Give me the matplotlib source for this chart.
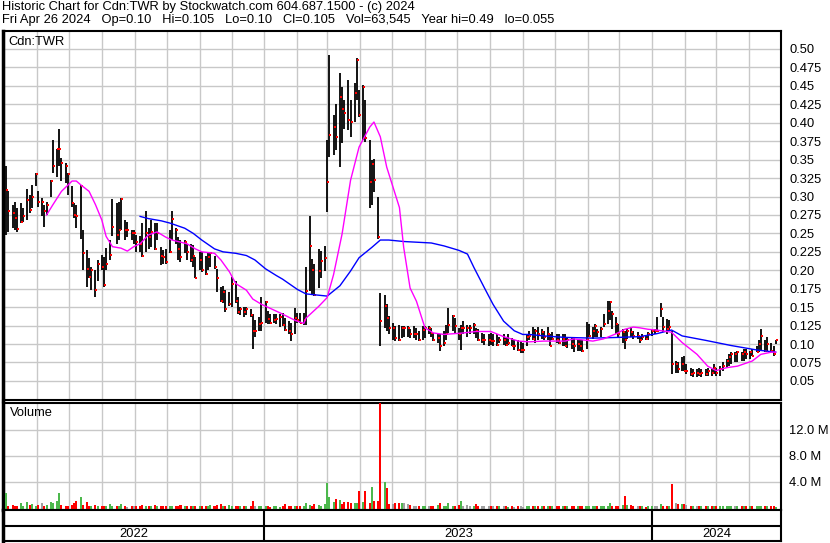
import matplotlib
matplotlib.use('Agg')
import matplotlib.pyplot as plt
import matplotlib.dates as mdates
import matplotlib.transforms as mtransforms
from matplotlib.ticker import FixedLocator, FuncFormatter, NullFormatter
import numpy as np
import pandas as pd

plt.rcParams['font.family'] = ['Liberation Sans', 'DejaVu Sans']

# one bar for every second trading day, May 2022 - Apr 26 2024 (prices x1000)
hi = [342, 307, 289, 293, 284, 291, 284, 310, 302, 316, 332, 307, 298, 289, 293, 323,
      376, 364, 391, 352, 346, 332, 314, 291, 289, 316, 255, 227, 216, 205, 200, 214,
      221, 218, 230, 241, 296, 291, 293, 298, 268, 266, 255, 255, 248, 246,
      264, 281, 257, 268, 264, 264, 232, 227, 229, 255, 281, 257, 245, 241, 241, 236,
      236, 234, 218, 225, 225, 220, 225, 225, 220, 202, 177, 179, 173, 170, 191, 186,
      164, 150, 150, 150, 148, 141, 132, 136, 164, 159, 145, 141, 141, 141, 141,
      142, 135, 131, 128, 149, 142, 142, 142, 204, 274, 215, 208, 229, 226, 233, 376,
      492, 410, 426, 467, 449, 431, 458, 431, 454, 488, 444, 451, 431, 376, 349, 351,
      300, 169, 167, 154, 138, 128, 124, 126, 124, 124, 124, 120, 124, 122, 117, 124,
      124, 124, 122, 115, 113, 113, 117, 126, 149, 140, 135, 122, 126, 131, 126, 126,
      128, 122, 120, 115, 113, 113, 115, 113, 113, 110, 113, 108, 113, 108, 106, 106,
      104, 101, 113,
      118, 123, 120, 123, 120, 118, 123, 114, 116, 114, 114, 114, 114, 109, 109, 109,
      105, 107, 105, 130, 127, 123, 127, 120, 123, 141, 159, 159, 145, 136, 127, 120,
      118, 120, 123, 118, 116, 111, 114, 111, 116, 120, 120, 136, 155,
      136, 134, 132, 118, 77, 75, 82, 84, 73, 68, 66, 66, 68, 66, 66, 68, 66, 73, 68,
      70, 75, 80, 86, 89, 89, 91, 89, 93, 93, 91, 93, 98, 105, 120, 105, 109, 102, 98,
      105]
lo = [248, 252, 257, 255, 252, 264, 266, 268, 277, 284, 314, 286, 273, 259, 275, 300,
      332, 327, 341, 321, 318, 302, 286, 271, 257, 243, 200, 177, 189, 173, 164, 186,
      200, 177, 200, 214, 246, 236, 241, 255, 241, 245, 241, 236, 225, 225,
      218, 225, 229, 232, 227, 241, 207, 209, 209, 223, 241, 236, 214, 211, 223, 214,
      211, 204, 189, 200, 198, 193, 200, 204, 202, 170, 157, 155, 143, 152, 150, 155,
      141, 139, 136, 139, 136, 93, 109, 118, 118, 129, 127, 127, 129, 127, 123,
      124, 117, 113, 104, 113, 129, 129, 126, 126, 172, 167, 165, 176, 190, 199, 279,
      354, 356, 363, 340, 372, 392, 390, 381, 401, 431, 408, 376, 374, 285, 288, 306,
      242, 97, 122, 117, 113, 106, 104, 104, 108, 110, 110, 108, 108, 106, 104, 106,
      108, 113, 110, 104, 101, 90, 97, 106, 115, 117, 115, 106, 92, 113, 110, 113,
      113, 108, 104, 101, 99, 97, 99, 97, 97, 101, 99, 97, 99, 97, 92, 90,
      88, 88, 97,
      105, 105, 102, 105, 107, 105, 105, 98, 105, 102, 100, 98, 98, 95, 93, 89,
      91, 91, 89, 93, 109, 107, 109, 109, 109, 123, 127, 132, 120, 114, 109, 102,
      93, 107, 109, 107, 107, 102, 105, 105, 105, 111, 114, 116, 136,
      116, 114, 118, 59, 61, 61, 64, 64, 59, 57, 55, 55, 57, 55, 57, 57, 57, 59, 57,
      57, 64, 68, 70, 73, 75, 75, 77, 77, 80, 80, 84, 89, 89, 91, 89, 91, 89, 84,
      100]
cl = [309, 280, 277, 271, 256, 265, 274, 295, 282, 300, 330, 293, 293, 280, 289, 321,
      341, 364, 365, 346, 341, 330, 291, 275, 274, 314, 223, 202, 191, 200, 173, 209,
      205, 180, 209, 221, 259, 248, 255, 296, 255, 255, 250, 250, 239, 236,
      220, 250, 245, 252, 229, 250, 220, 218, 211, 225, 270, 254, 229, 218, 239, 225,
      214, 220, 189, 214, 200, 195, 218, 223, 204, 189, 159, 170, 148, 154, 182, 159,
      143, 148, 143, 148, 139, 118, 118, 127, 129, 157, 134, 129, 132, 134, 136,
      126, 119, 117, 113, 135, 133, 129, 133, 172, 233, 201, 167, 199, 213, 217, 320,
      383, 394, 381, 435, 419, 413, 404, 401, 440, 485, 410, 449, 379, 320, 344, 322,
      245, 131, 151, 135, 122, 122, 108, 106, 122, 122, 122, 113, 113, 113, 106, 119,
      122, 122, 115, 106, 108, 97, 101, 113, 126, 138, 124, 113, 122, 122, 122, 122,
      126, 117, 106, 106, 106, 106, 104, 104, 99, 106, 106, 99, 101, 97, 97, 92,
      92, 92, 110,
      111, 107, 118, 114, 116, 109, 114, 98, 107, 105, 102, 107, 98, 105, 100, 98,
      100, 98, 91, 107, 111, 118, 125, 116, 120, 127, 145, 157, 141, 127, 114, 116,
      105, 118, 116, 111, 111, 105, 109, 107, 114, 118, 118, 118, 148,
      123, 120, 123, 73, 73, 66, 73, 64, 64, 59, 61, 61, 59, 61, 59, 64, 61, 68, 61,
      66, 70, 77, 82, 86, 86, 89, 86, 89, 86, 89, 84, 89, 100, 111, 91, 100, 91, 86,
      105]
# volume in millions of shares
vol = [2.2, 0.3, 0.4, 0.3, 0.3, 0.8, 0.3, 0.85, 0.4, 0.5,
       0.3, 0.4, 0.75, 0.3, 0.4, 0.85, 0.75, 1.0, 2.2, 0.4,
       0.3, 0.3, 0.4, 0.7, 1.0, 1.7, 0.4, 0.85, 0.3, 0.2,
       0.4, 0.2, 0.3, 0.2, 0.3, 0.6, 0.2, 0.3, 0.2, 0.5,
       0.2, 0.1, 0.2, 0.3, 0.2, 0.3, 0.35, 0.2, 0.3, 0.2,
       0.4, 0.2, 0.3, 0.2, 0.2, 0.3, 0.2, 0.3, 0.2, 0.35,
       0.2, 0.3, 0.2, 0.3, 0.2, 0.3, 0.2, 0.2, 0.3, 0.4,
       0.3, 0.4, 0.6, 0.2, 0.3, 0.35, 0.2, 0.3, 0.2, 0.2,
       0.3, 0.2, 0.3, 1.1, 0.3, 0.2, 0.3, 0.2, 0.2, 0.1,
       0.2, 0.2, 0.1, 0.2, 0.5, 0.2, 0.2, 0.3, 0.2, 0.2,
       0.3, 0.7, 0.4, 0.3, 0.6, 0.4, 0.3, 0.5, 3.8, 1.7,
       0.9, 1.4, 1.2, 0.6, 0.9, 0.9, 0.8, 0.7, 0.8, 2.6,
       0.9, 2.6, 0.8, 3.25, 1.0, 1.1, 16.2, 4.0, 3.0, 0.6,
       0.6, 0.8, 0.7, 0.7, 0.7, 0.5, 0.4, 0.3, 0.3, 0.2,
       0.3, 0.2, 0.3, 0.2, 0.3, 0.4, 0.7, 0.3, 0.2, 0.8,
       0.3, 0.2, 0.4, 1.1, 0.3, 0.4, 0.2, 0.3, 0.5, 0.2,
       0.3, 0.2, 0.3, 0.2, 0.2, 0.3, 0.2, 0.2, 0.2, 0.1,
       0.2, 0.1, 0.2, 0.2, 0.1, 0.2, 0.2, 0.3, 0.2, 0.2,
       0.2, 0.3, 0.2, 0.2, 0.3, 0.2, 0.2, 0.3, 0.2, 0.2,
       0.3, 0.2, 0.3, 0.2, 0.2, 0.3, 0.2, 0.3, 0.2, 0.2,
       0.3, 0.2, 0.3, 0.7, 0.3, 0.2, 0.3, 0.4, 1.8, 0.4,
       0.4, 0.2, 0.2, 0.3, 0.2, 0.1, 0.2, 0.2, 0.2, 0.3,
       0.5, 0.2, 0.3, 0.3, 3.7, 0.8, 0.6, 0.6, 0.6, 0.4,
       0.3, 0.3, 0.2, 0.2, 0.2, 0.3, 0.2, 0.3, 0.2, 0.2,
       0.2, 0.3, 0.2, 0.2, 0.2, 0.3, 0.2, 0.2, 0.2, 0.3,
       0.2, 0.2, 0.2, 0.2, 0.2, 0.2, 0.2, 0.2, 0.2, 0.1]

# moving averages (bar index, price)
ma_short_idx = [14, 16, 19, 22, 24, 25, 28, 30, 32, 34, 36, 39, 41, 43, 45, 46, 48, 51,
                54, 56, 61, 64, 66, 70, 72, 75, 77, 81, 83, 86, 88, 92, 97, 100, 101,
                105, 108, 110, 113, 116, 119, 122, 124, 126, 128, 132, 134, 136, 138,
                141, 144, 147, 154, 158, 163, 167, 172, 176, 181, 188, 191, 197, 201,
                205, 208, 211, 213, 216, 219, 224, 227, 232, 236, 239, 242, 246, 251,
                254, 257, 259]
ma_short = [.275, .289, .307, .321, .321, .316, .307, .289, .268, .246, .232, .230,
            .226, .232, .236, .239, .248, .252, .245, .241, .236, .229, .225, .223,
            .214, .198, .182, .173, .161, .154, .150, .142, .132, .128, .135, .151,
            .163, .194, .249, .322, .367, .394, .401, .381, .340, .285, .231, .176,
            .158, .122, .115, .113, .115, .117, .117, .110, .104, .103, .104, .104,
            .107, .104, .107, .114, .120, .123, .122, .120, .119, .116, .102, .086,
            .070, .064, .068, .070, .077, .086, .089, .089]
ma_long_idx = [45, 48, 52, 55, 60, 63, 66, 70, 73, 77, 81, 84, 87, 91, 93, 98, 101,
               108, 112, 116, 119, 123, 126, 129, 134, 143, 147, 152, 155, 157, 161,
               164, 167, 171, 174, 176, 181, 188, 197, 206, 213, 219, 224, 227, 235,
               244, 252, 259]
ma_long = [.273, .270, .267, .264, .257, .250, .241, .229, .225, .223, .220, .214,
           .202, .193, .188, .174, .168, .165, .179, .199, .217, .231, .241, .241,
           .239, .237, .233, .227, .222, .204, .176, .154, .131, .118, .113, .113,
           .111, .109, .108, .109, .110, .114, .119, .111, .105, .098, .092, .089]

years = ['2022', '2023', '2024']

dates = pd.bdate_range('2022-05-02', '2024-04-26')[1::2]
hi_p = np.array(hi) / 1000
lo_p = np.array(lo) / 1000
cl_p = np.array(cl) / 1000
vol_m = np.array(vol)

W, H = 830, 543
fig = plt.figure(figsize=(W / 100, H / 100), dpi=100)


def rect(x0, y0, x1, y1):
    return [x0 / W, 1 - y1 / H, (x1 - x0) / W, (y1 - y0) / H]


def px_text(x, y, s, **kw):
    fig.text(x / W, 1 - y / H, s, va='center', **kw)


xmin, xmax = pd.Timestamp('2022-04-30'), pd.Timestamp('2024-05-01')
grid_kw = dict(color='#c8c8c8', lw=1.0)

# price panel
ax = fig.add_axes(rect(3, 31, 781, 399.5))
ax.vlines(dates, lo_p, hi_p, color='black', lw=1.3, zorder=3)
off = mtransforms.offset_copy(ax.transData, fig=fig, x=1, y=0, units='dots')
ax.scatter(dates, cl_p, s=4, marker='s', c='red', lw=0, transform=off, zorder=4)
ax.plot(dates[ma_long_idx], ma_long, color='#0000ff', lw=1.0, zorder=5)
ax.plot(dates[ma_short_idx], ma_short, color='#ff00ff', lw=1.0, zorder=5)
ax.set_xlim(xmin, xmax)
ax.set_ylim(0.0248, 0.5244)
ax.xaxis.set_major_locator(mdates.MonthLocator())
ax.xaxis.set_major_formatter(NullFormatter())
ax.yaxis.set_major_locator(FixedLocator(np.arange(0.05, 0.5001, 0.025)))
ax.yaxis.set_major_formatter(FuncFormatter(
    lambda v, p: f'{v:.2f}' if round(v * 1000) % 10 == 0 else f'{v:.3f}'))
ax.yaxis.tick_right()
ax.tick_params(length=0, labelsize=9.3, pad=6)
ax.grid(True, **grid_kw)
ax.set_axisbelow(True)

# volume panel
axv = fig.add_axes(rect(3, 402.5, 781, 510))
chg = np.diff(cl_p, prepend=cl_p[0] - 1)
vcol = np.where(chg > 0, '#4cb84c', np.where(chg < 0, '#ff0000', '#a0a0a0'))
axv.bar(dates, vol_m + 0.35, bottom=-0.35, width=1.9, color=vcol, lw=0, zorder=3)
axv.set_xlim(xmin, xmax)
axv.set_ylim(-0.35, 16.2)
axv.xaxis.set_major_locator(mdates.MonthLocator())
axv.xaxis.set_major_formatter(NullFormatter())
axv.yaxis.set_major_locator(FixedLocator([4, 8, 12]))
axv.yaxis.set_major_formatter(FuncFormatter(lambda v, p: f'{v:.1f} M'))
axv.yaxis.tick_right()
axv.tick_params(length=0, labelsize=9.3, pad=6)
axv.grid(True, **grid_kw)
axv.set_axisbelow(True)

# year strip
axy = fig.add_axes(rect(3, 510, 781, 541))
axy.set_xlim(xmin, xmax)
axy.set_ylim(0, 1)
axy.set_xticks([])
axy.set_yticks([])
axy.axhline(0.47, color='black', lw=1.5)
bounds = [xmin, pd.Timestamp('2023-01-01'), pd.Timestamp('2024-01-01'), xmax]
for b in bounds[1:3]:
    axy.axvline(b, color='black', lw=1.5)
for i, yr in enumerate(years):
    mid = bounds[i] + (bounds[i + 1] - bounds[i]) / 2
    axy.text(mid, 0.23, yr, ha='center', va='center', fontsize=9.3)

for a in (ax, axv, axy):
    for s in a.spines.values():
        s.set_color('black')
        s.set_linewidth(1.5)
    a.spines['left'].set_linewidth(2.5)

px_text(8, 42, 'Cdn:TWR', fontsize=9.3)
px_text(10, 413, 'Volume', fontsize=9.3)
px_text(2, 7, 'Historic Chart for Cdn:TWR by Stockwatch.com 604.687.1500 - (c) 2024',
        fontsize=9.3)
px_text(2, 20, 'Fri Apr 26 2024   Op=0.10   Hi=0.105   Lo=0.10   Cl=0.105   '
        'Vol=63,545   Year hi=0.49   lo=0.055', fontsize=9.3)

fig.savefig('out.png', dpi=100)
